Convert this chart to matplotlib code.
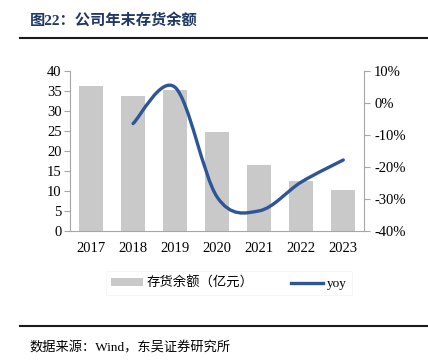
import numpy as np
import matplotlib.pyplot as plt
from matplotlib.path import Path
from matplotlib.patches import PathPatch
from matplotlib.lines import Line2D
from matplotlib.patches import Patch

plt.rcParams['font.family'] = ['Liberation Serif', 'Noto Sans CJK SC']

years = ['2017', '2018', '2019', '2020', '2021', '2022', '2023']
inventory = [36.2, 33.8, 35.3, 24.8, 16.4, 12.3, 10.2]   # 存货余额（亿元）
yoy_years = [1, 2, 3, 4, 5, 6]                            # index into years
yoy = [-6.5, 4.8, -29.5, -33.8, -24.8, -17.9]             # %

bar_color = '#c9c9c9'
line_color = '#2e5597'
spine_color = '#a6a6a6'
mixed = ['Liberation Serif', 'Noto Sans CJK SC']

fig = plt.figure(figsize=(4.28, 3.63), dpi=100)
ax = fig.add_axes([0.1636, 0.3645, 0.6876, 0.4407])
ax2 = ax.twinx()

x = np.arange(len(years))
ax.bar(x, inventory, width=0.58, color=bar_color, zorder=2)
ax.set_xlim(-0.5, 6.5)
ax.set_ylim(0, 40)
ax.set_yticks(range(0, 41, 5))
ax.set_xticks(x)
ax.set_xticklabels(years)

# smooth yoy line (Excel-style bezier segments through the data points)
px = np.array(yoy_years, dtype=float)
py = np.array(yoy, dtype=float)
verts = [(px[0], py[0])]
codes = [Path.MOVETO]
n = len(px)
for i in range(n - 1):
    p0 = (px[max(i - 1, 0)], py[max(i - 1, 0)])
    p1 = (px[i], py[i])
    p2 = (px[i + 1], py[i + 1])
    p3 = (px[min(i + 2, n - 1)], py[min(i + 2, n - 1)])
    c1 = (p1[0] + (p2[0] - p0[0]) / 6, p1[1] + (p2[1] - p0[1]) / 6)
    c2 = (p2[0] - (p3[0] - p1[0]) / 6, p2[1] - (p3[1] - p1[1]) / 6)
    verts += [c1, c2, p2]
    codes += [Path.CURVE4] * 3
ax2.add_patch(PathPatch(Path(verts, codes), facecolor='none', edgecolor=line_color,
                        lw=2.4, capstyle='round', zorder=3))
ax2.set_ylim(-40, 10)
ax2.set_yticks(range(-40, 11, 10))
ax2.set_yticklabels([f'{v}%' for v in range(-40, 11, 10)])

for a in (ax, ax2):
    for s in a.spines.values():
        s.set_color(spine_color)
    a.spines['top'].set_visible(False)
    a.tick_params(colors=spine_color, labelcolor='black', labelsize=10.5, length=4, width=0.8)
ax.spines['right'].set_visible(False)
ax2.spines['left'].set_visible(False)
ax2.spines['bottom'].set_visible(False)
ax.tick_params(axis='x', length=0, pad=8)
ax.tick_params(axis='y', pad=2)
ax2.tick_params(axis='y', pad=3)

handles = [Patch(facecolor=bar_color, edgecolor='none'),
           Line2D([0], [0], color=line_color, lw=2.4)]
leg = fig.legend(handles, ['存货余额（亿元）', 'yoy'], loc='center', bbox_to_anchor=(0.535, 0.22),
                 ncol=2, frameon=True, fancybox=False, edgecolor='#f2f2f2', handlelength=2.4,
                 handleheight=0.55, columnspacing=2.8, handletextpad=0.3, prop={'size': 9.5})
leg.get_frame().set_linewidth(0.6)
leg.get_texts()[0].set_family(['Noto Sans CJK SC', 'DejaVu Sans'])
leg.get_texts()[0].set_fontsize(9.6)

fig.text(0.07, 0.945, '图22：公司年末存货余额', family=mixed, fontsize=11, fontweight='bold',
         color='#1f3864', va='center')
fig.add_artist(Line2D([0.047, 1.0], [0.895, 0.895], color='#1a1a1a', lw=1.5))
fig.add_artist(Line2D([0.047, 1.0], [0.102, 0.102], color='#1a1a1a', lw=1.5))
fig.text(0.07, 0.042, '数据来源：Wind，东吴证券研究所', family=mixed, fontsize=9.5,
         color='black', va='center')

fig.savefig('out.png', dpi=100)
